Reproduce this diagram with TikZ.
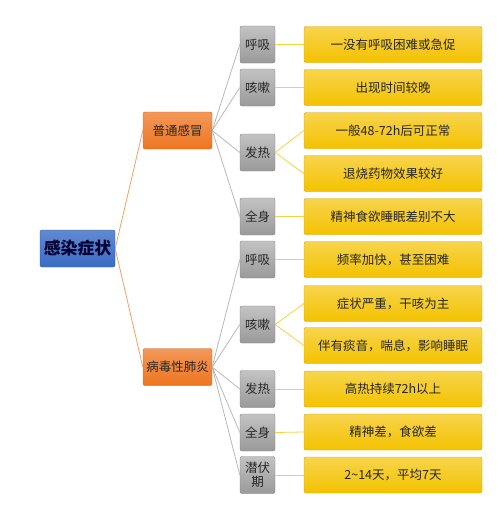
\documentclass[tikz,border=0pt]{standalone}
\usepackage{fontspec}
\setmainfont{Noto Sans CJK SC}
\usetikzlibrary{positioning}

\definecolor{rootblue}{HTML}{3A6CC4}
\definecolor{catorange}{HTML}{EE7622}
\definecolor{itemgray}{HTML}{A2A2A2}
\definecolor{descyellow}{HTML}{F4C200}

\begin{document}
\begin{tikzpicture}[x=1pt, y=-1pt,
    box/.style={rounded corners=2pt, inner sep=0pt, minimum height=37pt,
        font=\fontsize{12.5}{14}\selectfont, text=black!85},
    rootbox/.style={box, minimum width=75pt, draw=rootblue!80!black,
        top color=rootblue!80!white, bottom color=rootblue,
        font=\fontsize{16.8}{18}\selectfont\bfseries, text=blue!20!black},
    catbox/.style={box, minimum width=69pt, draw=catorange!85!black,
        top color=catorange!75!white, bottom color=catorange},
    itembox/.style={box, minimum width=35pt, draw=itemgray!80!black,
        top color=itemgray!65!white, bottom color=itemgray!95!black, align=center},
    descbox/.style={box, minimum width=178pt, minimum height=36pt,
        draw=descyellow!85!black,
        top color=descyellow!70!white, bottom color=descyellow},
    rootline/.style={draw=catorange!70!white, thick},
    catline/.style={draw=black!28, thick},
    itemline/.style={draw=descyellow!75!white, thick}]

    % 0. 画布大小
    \useasboundingbox (0,0) rectangle (498,525);

    % 1. 根节点
    \node[rootbox] (root) at (77.5,248.5) {感染症状};

    % 2. 两类疾病
    \node[catbox] (cold) at (177.5,130.5) {普通感冒};
    \node[catbox] (pneu) at (177.5,367) {病毒性肺炎};

    % 3. 症状 (灰色)
    \node[itembox] (c1) at (257.5,44.5) {呼吸};
    \node[itembox] (c2) at (257.5,87.5) {咳嗽};
    \node[itembox] (c3) at (257.5,152.5) {发热};
    \node[itembox] (c4) at (257.5,216.5) {全身};
    \node[itembox] (p1) at (257.5,259.5) {呼吸};
    \node[itembox] (p2) at (257.5,324.5) {咳嗽};
    \node[itembox] (p3) at (257.5,389) {发热};
    \node[itembox] (p4) at (257.5,432.5) {全身};
    \node[itembox, font=\fontsize{12.5}{13.5}\selectfont] (p5) at (257.5,475) {潜伏\\期};

    % 4. 说明 (黄色)
    \node[descbox] (d1) at (393,44.5) {一没有呼吸困难或急促};
    \node[descbox] (d2) at (393,87.5) {出现时间较晚};
    \node[descbox] (d3) at (393,130.5) {一般48-72h后可正常};
    \node[descbox] (d4) at (393,173.5) {退烧药物效果较好};
    \node[descbox] (d5) at (393,216.5) {精神食欲睡眠差别不大};
    \node[descbox] (d6) at (393,259.5) {频率加快，甚至困难};
    \node[descbox] (d7) at (393,303.5) {症状严重，干咳为主};
    \node[descbox] (d8) at (393,345.5) {伴有痰音，喘息，影响睡眠};
    \node[descbox] (d9) at (393,389) {高热持续72h以上};
    \node[descbox] (d10) at (393,432) {精神差，食欲差};
    \node[descbox] (d11) at (393,475) {2\textasciitilde14天，平均7天};

    % 5. 连线
    \draw[rootline] (root.east) -- (cold.west);
    \draw[rootline] (root.east) -- (pneu.west);
    \foreach \i in {c1,c2,c3,c4} {
        \draw[catline] (cold.east) -- (\i.west);
    }
    \foreach \i in {p1,p2,p3,p4,p5} {
        \draw[catline] (pneu.east) -- (\i.west);
    }
    \draw[itemline] (c1.east) -- (d1.west);
    \draw[itemline] (c2.east) -- (d2.west);
    \draw[itemline] (c3.east) -- (d3.west);
    \draw[itemline] (c3.east) -- (d4.west);
    \draw[itemline] (c4.east) -- (d5.west);
    \draw[itemline] (p1.east) -- (d6.west);
    \draw[itemline] (p2.east) -- (d7.west);
    \draw[itemline] (p2.east) -- (d8.west);
    \draw[itemline] (p3.east) -- (d9.west);
    \draw[itemline] (p4.east) -- (d10.west);
    \draw[itemline] (p5.east) -- (d11.west);

\end{tikzpicture}
\end{document}
